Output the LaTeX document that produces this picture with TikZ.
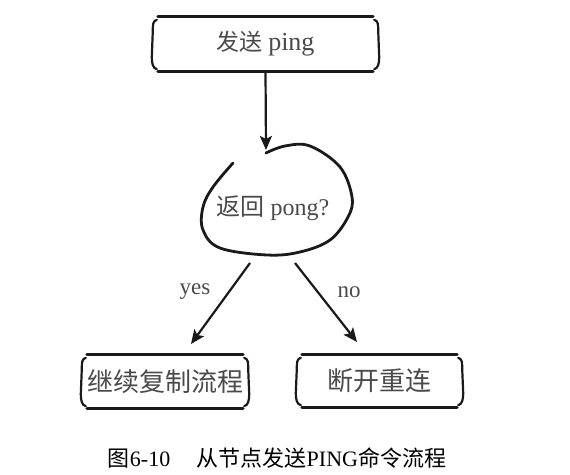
\documentclass[tikz,border=0pt]{standalone}
\usepackage{fontspec}
\setmainfont{Liberation Serif}
\newfontfamily\cjk{Noto Sans CJK SC}
\usetikzlibrary{arrows.meta,calc}
\definecolor{ink}{HTML}{1A1A1A}
\definecolor{txt}{HTML}{4A4A4A}
\tikzset{
 boxtext/.style={inner sep=0pt, text=txt},
 edge/.style={draw=ink, line width=2.2pt, -{Stealth[length=14pt,width=12pt,inset=3pt]}},
 rule/.style={draw=ink, line width=2.8pt, line cap=round},
 brace/.style={draw=ink, line width=2.2pt, line cap=round},
 lbl/.style={text=txt, font=\fontsize{23}{23}\selectfont},
}
\newcommand\skframe[1]{%
 \draw[rule] ($(#1.north west)+(5,0)$) -- ($(#1.north east)+(-5,0)$);
 \draw[rule] ($(#1.south west)+(5,0)$) -- ($(#1.south east)+(-5,0)$);
 \draw[brace] ($(#1.north west)+(4,3)$) .. controls ($(#1.north west)+(0,4)$) and ($(#1.north west)+(0,8)$) .. ($(#1.north west)+(0,14)$) -- ($(#1.south west)+(-1,-14)$) .. controls ($(#1.south west)+(-1,-8)$) and ($(#1.south west)+(0,-3)$) .. ($(#1.south west)+(4,-2)$);
 \draw[brace] ($(#1.north east)+(-4,3)$) .. controls ($(#1.north east)+(0,4)$) and ($(#1.north east)+(0,8)$) .. ($(#1.north east)+(0,14)$) -- ($(#1.south east)+(1,-14)$) .. controls ($(#1.south east)+(1,-8)$) and ($(#1.south east)+(0,-3)$) .. ($(#1.south east)+(-4,-2)$);
}
\begin{document}
\begin{tikzpicture}[x=1pt,y=-1pt]
\useasboundingbox[fill=white] (0,0) rectangle (570,474);
% boxes
\node[boxtext, minimum width=225pt, minimum height=54pt] (send) at (265.5,44) {\fontsize{23}{23}\selectfont{\cjk 发送} \fontsize{26}{26}\selectfont ping};
\skframe{send}
\node[boxtext, minimum width=166pt, minimum height=53pt] (cont) at (165,381.5) {\fontsize{26}{26}\selectfont\cjk 继续复制流程};
\skframe{cont}
\node[boxtext, minimum width=165pt, minimum height=52pt] (stop) at (379.5,381) {\fontsize{26}{26}\selectfont\cjk 断开重连};
\skframe{stop}
% decision
\node[boxtext] (ask) at (273,208) {\fontsize{24}{24}\selectfont{\cjk 返回} pong?};
\draw[brace, line width=2.8pt] plot[smooth, tension=0.6] coordinates {(266,153) (285,146) (310,146) (340,167) (352,197) (348,217) (330,240) (300,252) (267,255) (220,248) (203,230) (203,207) (213,187) (233,163)};
\coordinate (qin) at (266,150);
\coordinate (qyes) at (250,263);
\coordinate (qno) at (295,263);
\coordinate (yesend) at (191,344);
\coordinate (noend) at (357,342);
% connectors
\draw[edge] (send.south) -- (qin);
\draw[edge] (qyes) -- (yesend);
\draw[edge] (qno) -- (noend);
\node[lbl] (yes) at (195,292) {yes};
\node[lbl] (no) at (349,292) {no};
% caption
\node[inner sep=0pt, text=black] (cap) at (277,458) {\fontsize{22}{22}\selectfont{\cjk 图}6-10\hspace{1.2em}{\cjk 从节点发送}PING{\cjk 命令流程}};
\end{tikzpicture}
\end{document}
